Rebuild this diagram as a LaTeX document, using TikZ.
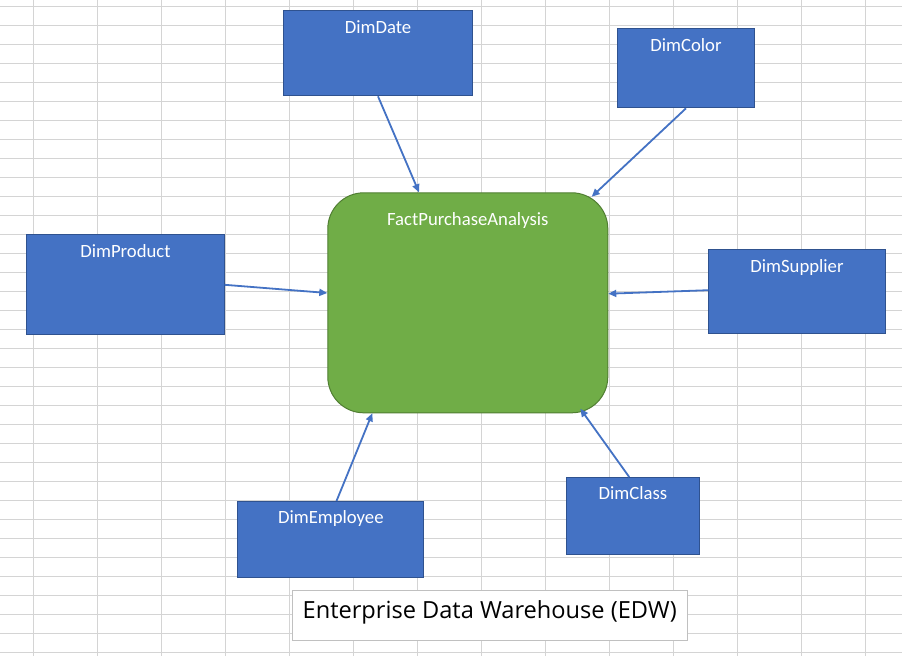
\documentclass[tikz,border=0pt]{standalone}
\usepackage{fontspec}
\setmainfont{Carlito}
\newfontfamily\titlefont{Open Sans}
\usetikzlibrary{arrows.meta,calc}
\definecolor{boxblue}{HTML}{4472C4}
\definecolor{boxedge}{HTML}{2F528F}
\definecolor{arrowblue}{HTML}{4472C4}
\definecolor{factgreen}{HTML}{70AD47}
\definecolor{factedge}{HTML}{507E32}
\definecolor{gridgray}{HTML}{D4D4D4}
\definecolor{titleedge}{HTML}{C0C0C0}
\tikzset{
  dimbox/.style={draw=boxedge, fill=boxblue, line width=1pt, anchor=north west, inner sep=0pt},
  boxlabel/.style={anchor=base, yshift=-22.7pt, text=white, font=\fontsize{18.7}{22}\selectfont, inner sep=0pt},
  factbox/.style={draw=factedge, fill=factgreen, line width=1pt, rounded corners=36pt, anchor=north west, inner sep=0pt},
  titlebox/.style={draw=titleedge, fill=white, line width=1pt, anchor=north west, inner sep=0pt},
  titlelabel/.style={anchor=base, yshift=-28pt, text=black, font=\titlefont\fontsize{23.6}{28}\selectfont, inner sep=0pt},
  conn/.style={draw=arrowblue, line width=1.8pt, -{Triangle[length=8pt,width=7pt]}},
  gridline/.style={draw=gridgray, line width=1pt},
}
\begin{document}
\begin{tikzpicture}[x=1pt, y=-1pt]
\useasboundingbox[fill=white] (0,0) rectangle (902,656);
% spreadsheet grid
\foreach \k in {0,...,13} { \draw[gridline] (33.3+64*\k,0) -- (33.3+64*\k,656); }
\foreach \k in {0,...,34} { \draw[gridline] (0,6+19*\k) -- (902,6+19*\k); }
% fact table
\node[factbox, minimum width=280pt, minimum height=220pt,
      label={[boxlabel, yshift=-10pt]north:FactPurchaseAnalysis}] (fact) at (327.3,192.3) {};
% dimensions
\node[dimbox, minimum width=188.4pt, minimum height=85pt, label={[boxlabel]north:DimDate}] (date) at (283.3,10.3) {};
\node[dimbox, minimum width=136.4pt, minimum height=79pt, label={[boxlabel]north:DimColor}] (color) at (617.3,28.3) {};
\node[dimbox, minimum width=197.4pt, minimum height=100pt, label={[boxlabel]north:DimProduct}] (product) at (26.3,234.3) {};
\node[dimbox, minimum width=176.4pt, minimum height=84pt, label={[boxlabel]north:DimSupplier}] (supplier) at (708.3,249.3) {};
\node[dimbox, minimum width=186pt, minimum height=76pt, label={[boxlabel]north:DimEmployee}] (employee) at (237.3,501) {};
\node[dimbox, minimum width=132.4pt, minimum height=77.3pt, label={[boxlabel]north:DimClass}] (class) at (566.3,477) {};
% title
\node[titlebox, minimum width=395pt, minimum height=49.7pt,
      label={[titlelabel]north:Enterprise Data Warehouse (EDW)}] (title) at (291.7,590.3) {};
% connectors
\draw[conn] (date.south) -- ($(fact.north west)+(91.7,0)$);
\draw[conn] (color.south) -- ($(fact.north west)+(264.4,4.4)$);
\draw[conn] (product.east) -- ($(fact.north west)+(0,100.7)$);
\draw[conn] ($(supplier.west)+(0,-1.6)$) -- ($(fact.north east)+(0,101.4)$);
\draw[conn] ($(employee.north)+(5.7,0)$) -- ($(fact.south west)+(45,0)$);
\draw[conn] ($(class.north)+(-3.8,0)$) -- ($(fact.south east)+(-28,-4.6)$);
\end{tikzpicture}
\end{document}
